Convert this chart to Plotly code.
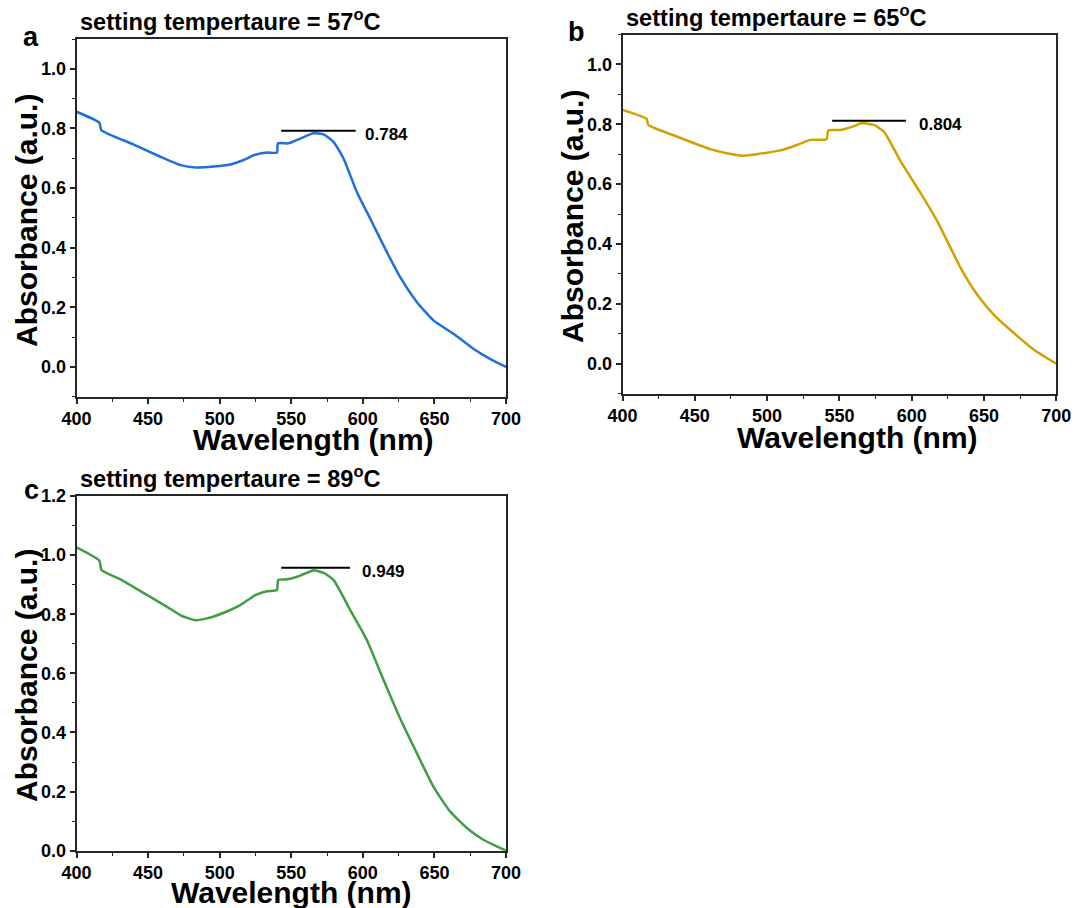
import plotly.graph_objects as go

# ---------------- data ----------------
wl_a = [400, 416.0, 417.4, 440.0, 458.6, 472.6, 483.0, 495.8, 507.4, 516.7, 523.7, 533.0, 540.0,
        540.7, 548.1, 556.3, 565.5, 572.6, 579.5, 586.5, 595.8, 605.1, 616.7, 626.0, 637.7,
        649.3, 663.3, 677.2, 688.8, 700]
abs_a = [0.856, 0.819, 0.794, 0.746, 0.705, 0.677, 0.669, 0.672, 0.679, 0.694, 0.710, 0.719, 0.719,
         0.750, 0.750, 0.766, 0.784, 0.780, 0.755, 0.699, 0.587, 0.498, 0.386, 0.302, 0.218,
         0.156, 0.111, 0.061, 0.027, 0.0]

wl_b = [400, 416.7, 417.8, 439.8, 460.6, 472.2, 482.6, 495.3, 509.2, 520.7, 530.0, 541.1,
        542.3, 550.8, 560.1, 565.5, 573.9, 580.9, 592.5, 606.3, 617.9, 634.1, 645.6, 657.2,
        671.1, 685.0, 700]
abs_b = [0.848, 0.818, 0.798, 0.755, 0.717, 0.703, 0.695, 0.702, 0.713, 0.731, 0.748, 0.750,
         0.779, 0.781, 0.794, 0.804, 0.798, 0.775, 0.675, 0.569, 0.474, 0.318, 0.229, 0.162,
         0.101, 0.045, 0.0]

wl_c = [400, 416.0, 417.4, 430.7, 449.3, 463.3, 473.7, 483.0, 491.2, 502.8, 514.4, 524.9, 533.0,
        540.0, 540.9, 547.0, 554.0, 560.9, 565.5, 572.6, 579.5, 591.2, 602.8, 614.4, 626.0,
        637.7, 649.3, 660.9, 672.6, 684.2, 700]
abs_c = [1.026, 0.981, 0.950, 0.918, 0.865, 0.825, 0.794, 0.780, 0.786, 0.805, 0.831, 0.865, 0.878,
         0.882, 0.916, 0.918, 0.927, 0.940, 0.949, 0.940, 0.916, 0.814, 0.713, 0.578, 0.448,
         0.330, 0.217, 0.133, 0.077, 0.037, 0.0]

peak_values = [0.784, 0.804, 0.949]
peak_line_x0 = [543, 545, 543]
peak_line_x1 = [595, 596, 591]
peak_label_x = [600, 604, 598]

panel_letters = ["a", "b", "c"]
set_temps = ["57", "65", "89"]
x_ticks = [400, 450, 500, 550, 600, 650, 700]
y_ticks_ab = [0.0, 0.2, 0.4, 0.6, 0.8, 1.0]
y_ticks_c = [0.0, 0.2, 0.4, 0.6, 0.8, 1.0, 1.2]
x_title = "Wavelength (nm)"
y_title = "Absorbance (a.u.)"

colors = ["#1f6fdc", "#d2a000", "#3f9e3f"]

# ---------------- figure ----------------
W, H = 1091, 908
FONT = "Liberation Sans"

fig = go.Figure()
series = [(wl_a, abs_a), (wl_b, abs_b), (wl_c, abs_c)]
for i, (wx, wy) in enumerate(series):
    sfx = "" if i == 0 else str(i + 1)
    fig.add_trace(go.Scatter(x=wx, y=wy, mode="lines",
                             line=dict(color=colors[i], width=2.5, shape="spline", smoothing=0.5),
                             xaxis="x" + sfx, yaxis="y" + sfx,
                             showlegend=False, hoverinfo="skip"))

# panel geometry in pixels: (left, right, top, bottom)
boxes = [(76.5, 506, 39, 396.7), (622.5, 1056.3, 34.5, 393.7), (76.5, 506, 496, 850.7)]
yranges = [[-0.1, 1.1], [-0.1, 1.1], [0, 1.2]]
yticks = [y_ticks_ab, y_ticks_ab, y_ticks_c]
# axis-title centres (pixels)
xtitle_pos = [(313, 439), (857, 437.5), (291, 892.5)]
ytitle_pos = [(26, 221), (572, 217), (26, 676)]
letter_pos = [(31, 37), (576, 32), (31, 490)]

axis_common = dict(showline=True, linecolor="#262626", linewidth=1.8, mirror=True,
                   ticks="outside", ticklen=5, tickwidth=1.5, tickcolor="#262626",
                   showgrid=False, zeroline=False, automargin=False,
                   tickfont=dict(family=FONT, size=18, color="black", weight="bold"))

layout = dict(width=W, height=H, margin=dict(l=0, r=0, t=0, b=0),
              plot_bgcolor="white", paper_bgcolor="white",
              font=dict(family=FONT, color="black"))
annotations = []
shapes = []
for i, (l, r, t, b) in enumerate(boxes):
    sfx = "" if i == 0 else str(i + 1)
    xa = dict(axis_common, domain=[l / W, r / W], anchor="y" + sfx, range=[400, 700],
              tickvals=x_ticks, ticktext=[str(v) for v in x_ticks],
              minor=dict(dtick=25, tick0=400, ticks="outside", ticklen=3, tickwidth=1.2,
                         tickcolor="#262626", showgrid=False))
    ya = dict(axis_common, domain=[1 - b / H, 1 - t / H], anchor="x" + sfx, range=yranges[i],
              tickvals=yticks[i], ticktext=["%.1f" % v for v in yticks[i]],
              minor=dict(dtick=0.1, tick0=0, ticks="outside", ticklen=3, tickwidth=1.2,
                         tickcolor="#262626", showgrid=False))
    layout["xaxis" + sfx] = xa
    layout["yaxis" + sfx] = ya

    # axis titles
    annotations.append(dict(text=x_title, xref="paper", yref="paper",
                            x=xtitle_pos[i][0] / W, y=1 - xtitle_pos[i][1] / H,
                            xanchor="center", yanchor="middle", showarrow=False,
                            font=dict(family=FONT, size=30, color="black", weight="bold")))
    annotations.append(dict(text=y_title, xref="paper", yref="paper", textangle=-90,
                            x=ytitle_pos[i][0] / W, y=1 - ytitle_pos[i][1] / H,
                            xanchor="center", yanchor="middle", showarrow=False,
                            font=dict(family=FONT, size=30, color="black", weight="bold")))
    # title above plot
    annotations.append(dict(text="setting tempertaure = %s<sup>o</sup>C" % set_temps[i],
                            xref="paper", yref="paper", x=(l + 1) / W, y=1 - (t - 2) / H,
                            xanchor="left", yanchor="bottom", showarrow=False,
                            font=dict(family=FONT, size=23.6, color="black", weight="bold")))
    # panel letter
    annotations.append(dict(text=panel_letters[i], xref="paper", yref="paper",
                            x=letter_pos[i][0] / W, y=1 - letter_pos[i][1] / H,
                            xanchor="center", yanchor="middle", showarrow=False,
                            font=dict(family=FONT, size=27, color="black", weight="bold")))
    # peak marker line and label
    shapes.append(dict(type="line", xref="x" + sfx, yref="y" + sfx,
                       x0=peak_line_x0[i], x1=peak_line_x1[i],
                       y0=peak_values[i] + 0.008, y1=peak_values[i] + 0.008,
                       line=dict(color="black", width=2)))
    annotations.append(dict(text="%.3f" % peak_values[i], xref="x" + sfx, yref="y" + sfx,
                            x=peak_label_x[i], y=peak_values[i] - 0.004,
                            xanchor="left", yanchor="middle", showarrow=False,
                            font=dict(family=FONT, size=17, color="black", weight="bold")))

layout["annotations"] = annotations
layout["shapes"] = shapes
fig.update_layout(**layout)
fig.write_html("out.html")
